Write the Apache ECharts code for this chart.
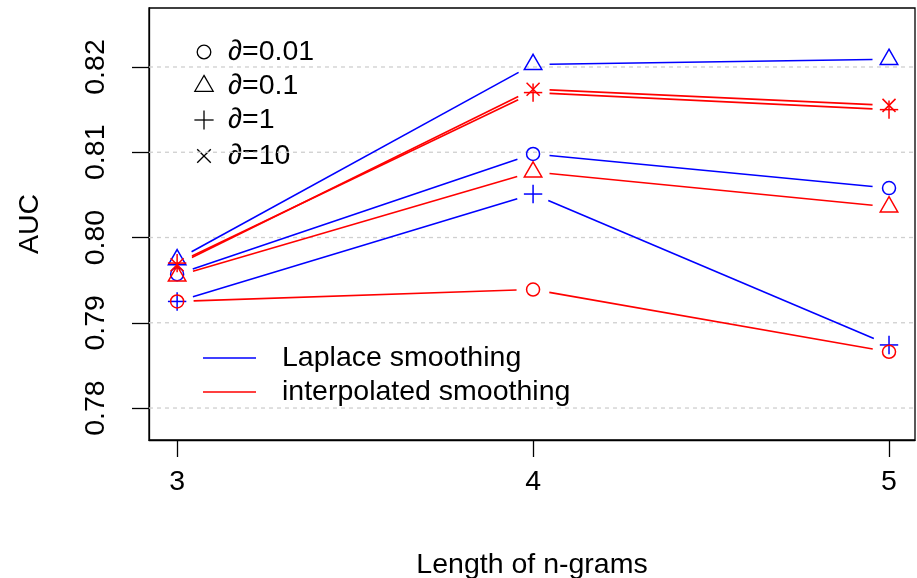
<!DOCTYPE html>
<html>
<head>
<meta charset="utf-8">
<script src="https://cdn.jsdelivr.net/npm/echarts@6/dist/echarts.min.js"></script>
<style>html,body{margin:0;padding:0;background:#fff}#c{width:917px;height:578px}</style>
</head>
<body>
<div id="c"></div>
<script>
// ---- data ----
const ngramLengths = [3, 4, 5];
const yTicks = [0.78, 0.79, 0.80, 0.81, 0.82];
const yTickLabels = ['0.78', '0.79', '0.80', '0.81', '0.82'];
// Laplace smoothing (blue)
const laplace_a001 = [0.7957, 0.8098, 0.8058];
const laplace_a01  = [0.7974, 0.8203, 0.8209];
const laplace_a1   = [0.7925, 0.8051, 0.7874];
// interpolated smoothing (red)
const interp_a001 = [0.7925, 0.7939, 0.7866];
const interp_a01  = [0.7955, 0.8077, 0.8036];
const interp_a1   = [0.7970, 0.8170, 0.8150];
const interp_a10  = [0.7968, 0.8174, 0.8155];
const alphaLabels = ['\u2202=0.01', '\u2202=0.1', '\u2202=1', '\u2202=10'];
const methodLabels = ['Laplace smoothing', 'interpolated smoothing'];

const BLUE = '#0000ff', RED = '#ff0000';
const FONT = '"Liberation Sans", Arial, Helvetica, sans-serif';
const FS = 28.5;
const GAP = 16.5;
const S = 6.5;

function marker(shape, cx, cy, color, s, lw) {
  const st = {fill: 'none', stroke: color, lineWidth: lw};
  if (shape === 'circle') return {type: 'circle', shape: {cx, cy, r: s}, style: st};
  if (shape === 'triangle') {
    const r = 1.5551 * s, xc = 1.3468 * s, yc = 0.7776 * s;
    return {type: 'polygon', shape: {points: [[cx, cy - r], [cx + xc, cy + yc], [cx - xc, cy + yc]]}, style: st};
  }
  if (shape === 'plus') {
    const h = 1.4142 * s;
    return {type: 'group', children: [
      {type: 'line', shape: {x1: cx - h, y1: cy, x2: cx + h, y2: cy}, style: st},
      {type: 'line', shape: {x1: cx, y1: cy - h, x2: cx, y2: cy + h}, style: st}
    ]};
  }
  return {type: 'group', children: [
    {type: 'line', shape: {x1: cx - s, y1: cy - s, x2: cx + s, y2: cy + s}, style: st},
    {type: 'line', shape: {x1: cx - s, y1: cy + s, x2: cx + s, y2: cy - s}, style: st}
  ]};
}

function makeSeries(name, vals, color, shape) {
  return {
    type: 'custom', name,
    data: ngramLengths.map((x, i) => [x, vals[i]]),
    z: 3,
    renderItem: function (params, api) {
      const i = params.dataIndex;
      const p = api.coord([api.value(0), api.value(1)]);
      const children = [marker(shape, p[0], p[1], color, S, 1.5)];
      if (i < vals.length - 1) {
        const q = api.coord([ngramLengths[i + 1], vals[i + 1]]);
        const dx = q[0] - p[0], dy = q[1] - p[1], L = Math.hypot(dx, dy);
        const g = GAP / L;
        children.push({type: 'line', shape: {x1: p[0] + dx * g, y1: p[1] + dy * g, x2: q[0] - dx * g, y2: q[1] - dy * g},
          style: {stroke: color, lineWidth: 1.6}});
      }
      return {type: 'group', children};
    }
  };
}

const gridSeries = {
  type: 'custom', name: 'grid', z: 1, silent: true,
  data: yTicks.map(v => [3, v]),
  renderItem: function (params, api) {
    const cs = params.coordSys;
    const p = api.coord([api.value(0), api.value(1)]);
    return {type: 'line', shape: {x1: cs.x, y1: p[1], x2: cs.x + cs.width, y2: p[1]},
      style: {stroke: '#cfcfcf', lineWidth: 1.3, lineDash: [4, 4]}};
  }
};

const chart = echarts.init(document.getElementById('c'));

const legendGraphics = [];
const shapes = ['circle', 'triangle', 'plus', 'cross'];
const rowY = [52, 86, 120, 156];
shapes.forEach((sh, i) => {
  legendGraphics.push(marker(sh, 204, rowY[i], '#000', 6.8, 1.3));
  legendGraphics.push({type: 'text', style: {text: alphaLabels[i], x: 228, y: rowY[i], fill: '#000',
    font: FS + 'px ' + FONT, verticalAlign: 'middle', align: 'left'}});
});
[[BLUE, 358], [RED, 392]].forEach((c, i) => {
  legendGraphics.push({type: 'line', shape: {x1: 203, y1: c[1], x2: 256, y2: c[1]}, style: {stroke: c[0], lineWidth: 1.6}});
  legendGraphics.push({type: 'text', style: {text: methodLabels[i], x: 282, y: c[1], fill: '#000',
    font: FS + 'px ' + FONT, verticalAlign: 'middle', align: 'left'}});
});

chart.setOption({
  animation: false,
  backgroundColor: '#fff',
  grid: {left: 149, top: 8, right: 2, bottom: 138, show: true, borderColor: '#000', borderWidth: 1.3,
    backgroundColor: 'transparent', outerBoundsMode: 'none', containLabel: false},
  xAxis: {
    type: 'value', min: 2.921, max: 5.073,
    name: 'Length of n-grams', nameLocation: 'middle', nameGap: 111,
    nameTextStyle: {fontSize: FS, fontFamily: FONT, color: '#000'},
    axisLine: {show: true, lineStyle: {color: '#000', width: 1.3}},
    axisTick: {show: true, inside: false, length: 17, lineStyle: {color: '#000', width: 1.3}, customValues: ngramLengths},
    axisLabel: {show: true, fontSize: FS, fontFamily: FONT, color: '#000', margin: 28, customValues: ngramLengths,
      formatter: v => String(v)},
    splitLine: {show: false}
  },
  yAxis: {
    type: 'value', min: 0.77625, max: 0.82692,
    name: 'AUC', nameLocation: 'middle', nameGap: 104, nameRotate: 90,
    nameTextStyle: {fontSize: FS, fontFamily: FONT, color: '#000'},
    axisLine: {show: true, lineStyle: {color: '#000', width: 1.3}},
    axisTick: {show: true, inside: false, length: 17, lineStyle: {color: '#000', width: 1.3}, customValues: yTicks},
    axisLabel: {show: true, rotate: 90, fontSize: FS, fontFamily: FONT, color: '#000', margin: 38, customValues: yTicks,
      formatter: v => { const k = yTicks.findIndex(t => Math.abs(t - v) < 1e-6); return k >= 0 ? yTickLabels[k] : ''; }},
    splitLine: {show: false}
  },
  graphic: legendGraphics,
  series: [
    gridSeries,
    makeSeries('Laplace a=0.01', laplace_a001, BLUE, 'circle'),
    makeSeries('Laplace a=0.1', laplace_a01, BLUE, 'triangle'),
    makeSeries('Laplace a=1', laplace_a1, BLUE, 'plus'),
    makeSeries('interp a=0.01', interp_a001, RED, 'circle'),
    makeSeries('interp a=0.1', interp_a01, RED, 'triangle'),
    makeSeries('interp a=1', interp_a1, RED, 'plus'),
    makeSeries('interp a=10', interp_a10, RED, 'cross')
  ]
});
</script>
</body>
</html>
